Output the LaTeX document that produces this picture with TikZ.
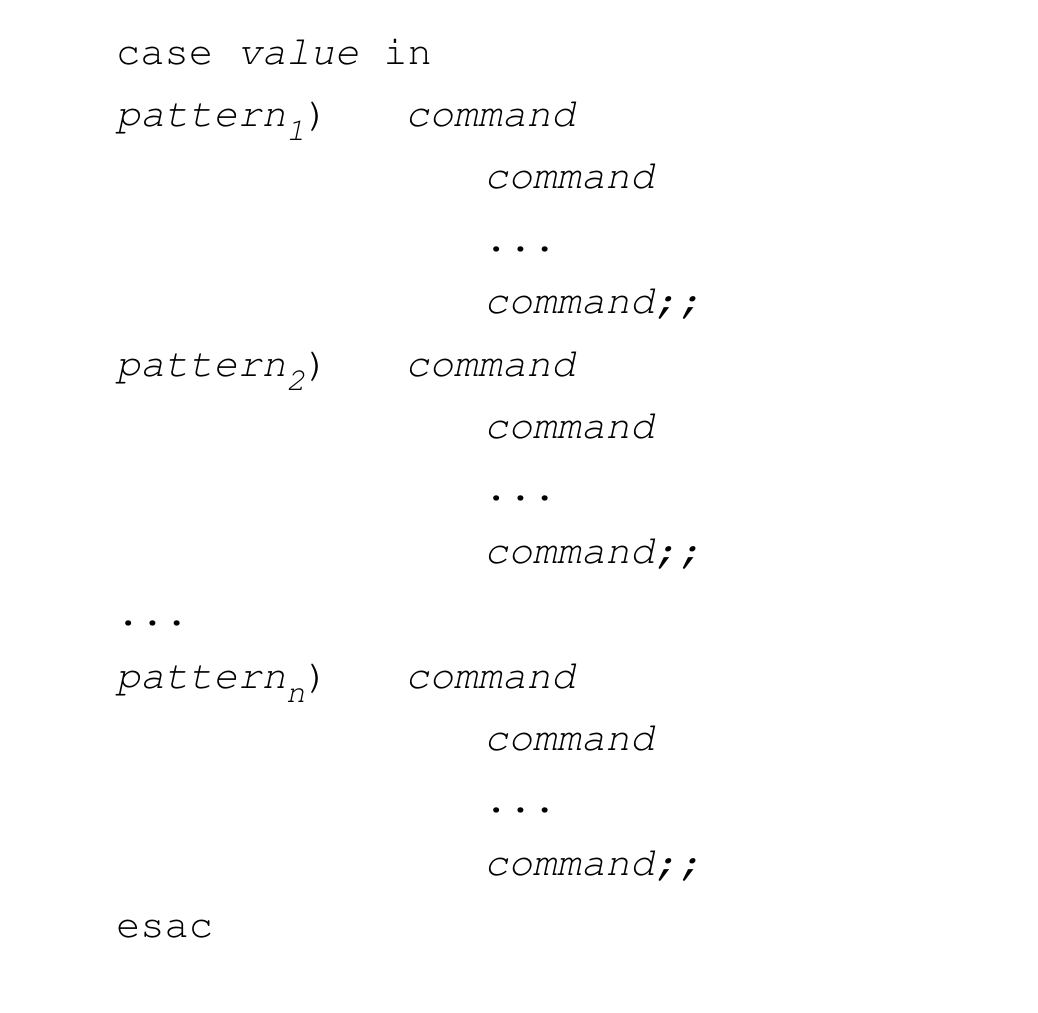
\documentclass[tikz,border=0pt]{standalone}
\usepackage[T1]{fontenc}
\usepackage{courier}
\usepackage{tikz}
\usetikzlibrary{positioning}

\newcommand{\sub}[1]{\raisebox{-14pt}{\fontsize{32}{32}\selectfont\slshape #1}}

\begin{document}
\begin{tikzpicture}[x=1pt,y=-1pt,
                    every node/.style={anchor=base west,inner sep=0pt,outer sep=0pt,
                    font=\ttfamily\fontsize{40.5}{48}\selectfont}]
  \tikzstyle{kw}=[]
  \tikzstyle{arg}=[font=\ttfamily\slshape\fontsize{40.5}{48}\selectfont]
  \useasboundingbox (0,0) rectangle (1038,1012);

  \node[kw]  (head) at (116,64)   {case \textsl{value} in};

  \node[arg] (p1)   at (116,126.4) {pattern\sub{1}\upshape)};
  \node[arg] (c11)  at (405,126.4) {command};
  \node[arg] (c12)  at (484,188.8) {command};
  \node[kw]  (d1)   at (484,251.2) {...};
  \node[arg] (c13)  at (484,313.6) {command;;};

  \node[arg] (p2)   at (116,376)   {pattern\sub{2}\upshape)};
  \node[arg] (c21)  at (405,376)   {command};
  \node[arg] (c22)  at (484,438.4) {command};
  \node[kw]  (d2)   at (484,500.8) {...};
  \node[arg] (c23)  at (484,563.2) {command;;};

  \node[kw]  (dots) at (116,625.6) {...};

  \node[arg] (pn)   at (116,688)   {pattern\sub{n}\upshape)};
  \node[arg] (cn1)  at (405,688)   {command};
  \node[arg] (cn2)  at (484,750.4) {command};
  \node[kw]  (dn)   at (484,812.8) {...};
  \node[arg] (cn3)  at (484,875.2) {command;;};

  \node[kw]  (tail) at (116,937.6) {esac};
\end{tikzpicture}
\end{document}
